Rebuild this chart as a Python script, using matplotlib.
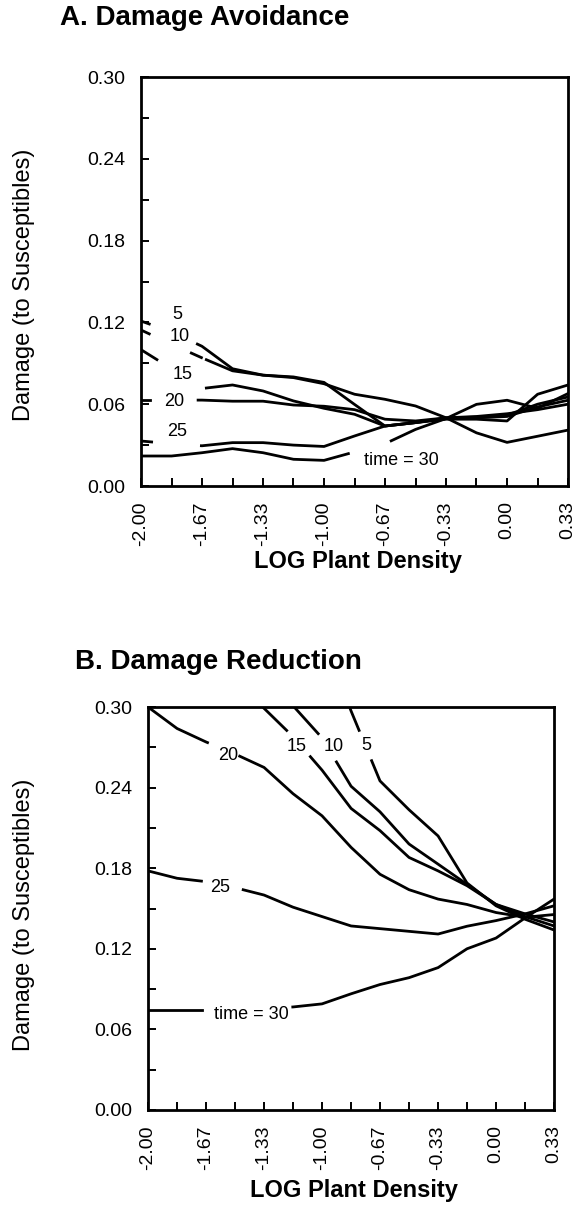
import numpy as np
import matplotlib
matplotlib.use("Agg")
import matplotlib.pyplot as plt

plt.rcParams['font.family'] = ['Liberation Sans', 'DejaVu Sans']

## Daten

log_density = [-2.000, -1.833, -1.667, -1.500, -1.333, -1.167, -1.000, -0.833,
               -0.667, -0.500, -0.333, -0.167, 0.000, 0.167, 0.333]
x_ticklabels = ['-2.00', '', '-1.67', '', '-1.33', '', '-1.00', '',
                '-0.67', '', '-0.33', '', '0.00', '', '0.33']
y_ticks = [0.00, 0.03, 0.06, 0.09, 0.12, 0.15, 0.18, 0.21, 0.24, 0.27, 0.30]
y_ticklabels = ['0.00', '', '0.06', '', '0.12', '', '0.18', '', '0.24', '', '0.30']

# A. Damage Avoidance
a_t5 = [0.121, 0.113, 0.1025, 0.086, 0.0813, 0.080, 0.076, 0.0598,
        0.044, 0.0465, 0.050, 0.039, 0.032, 0.0365, 0.041]
a_t10 = [0.1144, 0.104, 0.094, 0.0845, 0.0813, 0.0795, 0.075, 0.0673,
         0.0636, 0.0587, 0.050, 0.051, 0.053, 0.056, 0.060]
a_t15 = [0.100, 0.086, 0.0715, 0.0741, 0.0697, 0.0624, 0.057, 0.0526,
         0.044, 0.0465, 0.0495, 0.050, 0.051, 0.058, 0.0629]
a_t20 = [0.063, 0.063, 0.063, 0.0622, 0.0622, 0.0594, 0.0585, 0.056,
         0.049, 0.0477, 0.050, 0.0505, 0.052, 0.060, 0.0653]
a_t25 = [0.033, 0.031, 0.0295, 0.0318, 0.0318, 0.030, 0.029, 0.0367,
         0.044, 0.0465, 0.049, 0.049, 0.0477, 0.0673, 0.0741]
a_t30 = [0.022, 0.022, 0.0244, 0.0274, 0.0244, 0.0196, 0.0188, 0.025,
         0.031, 0.0415, 0.0495, 0.0599, 0.0629, 0.057, 0.0678]

# B. Damage Reduction (Werte ueber 0.30 liegen ausserhalb der Achse)
b_t5 = [None, None, None, None, None, None, 0.355, 0.297,
        0.245, 0.2235, 0.204, 0.169, 0.152, 0.142, 0.134]
b_t10 = [None, None, None, None, 0.325, 0.301, 0.277, 0.241,
         0.222, 0.198, 0.183, 0.168, 0.153, 0.144, 0.137]
b_t15 = [None, None, None, 0.320, 0.299, 0.278, 0.253, 0.2245,
         0.208, 0.188, 0.178, 0.167, 0.153, 0.146, 0.140]
b_t20 = [0.300, 0.284, 0.274, 0.265, 0.255, 0.2355, 0.219, 0.1955,
         0.1755, 0.164, 0.157, 0.153, 0.147, 0.1435, 0.1455]
b_t25 = [0.178, 0.1725, 0.170, 0.1655, 0.160, 0.151, 0.144, 0.137,
         0.135, 0.133, 0.131, 0.1368, 0.141, 0.146, 0.152]
b_t30 = [0.0747, 0.0747, 0.0747, 0.075, 0.0758, 0.0767, 0.079, 0.0865,
         0.0934, 0.0985, 0.106, 0.120, 0.128, 0.143, 0.157]


## Hilfsfunktion: Linie mit Luecken (fuer die Beschriftung)

def broken_line(ax, y, gaps):
    x = np.asarray(log_density, float)
    y = np.array([np.nan if v is None else v for v in y], float)
    ok = ~np.isnan(y)
    x, y = x[ok], y[ok]
    edges = [x[0]] + [g for gap in gaps for g in gap] + [x[-1]]
    for lo, hi in zip(edges[0::2], edges[1::2]):
        inside = (x > lo) & (x < hi)
        xs = np.concatenate([[lo], x[inside], [hi]])
        ys = np.interp(xs, x, y)
        ax.plot(xs, ys, color='black', lw=2.0)


def style_axes(ax):
    ax.set_xlim(-2.0, 0.333)
    ax.set_ylim(0.0, 0.30)
    ax.set_xticks(log_density)
    ax.set_xticklabels(x_ticklabels, rotation=90, fontsize=14)
    ax.set_yticks(y_ticks)
    ax.set_yticklabels(y_ticklabels, fontsize=14)
    ax.tick_params(direction='in', length=6, width=1.4, pad=11)
    for s in ax.spines.values():
        s.set_linewidth(2.0)


fig = plt.figure(figsize=(5.75, 12.07), dpi=100)

## Teil A

ax1 = fig.add_axes([141 / 575, 1 - 486 / 1207, 427 / 575, 409 / 1207])
broken_line(ax1, a_t5, [(-1.955, -1.692)])
broken_line(ax1, a_t10, [(-1.955, -1.725), (-1.670, -1.643)])
broken_line(ax1, a_t15, [(-1.913, -1.643)])
broken_line(ax1, a_t20, [(-1.950, -1.688)])
broken_line(ax1, a_t25, [(-1.942, -1.670)])
broken_line(ax1, a_t30, [(-0.867, -0.633)])
style_axes(ax1)

lab = dict(fontsize=13, ha='center', va='center')
ax1.text(-1.80, 0.1255, "5", **lab)
ax1.text(-1.79, 0.110, "10", **lab)
ax1.text(-1.77, 0.082, "15", **lab)
ax1.text(-1.82, 0.0619, "20", **lab)
ax1.text(-1.80, 0.0399, "25", **lab)
ax1.text(-0.578, 0.0184, "time = 30", **lab)

## Teil B

ax2 = fig.add_axes([148 / 575, 1 - 1110 / 1207, 406 / 575, 403 / 1207])
broken_line(ax2, b_t5, [(-0.787, -0.715)])
broken_line(ax2, b_t10, [(-1.022, -0.917)])
broken_line(ax2, b_t15, [(-1.203, -1.067)])
broken_line(ax2, b_t20, [(-1.658, -1.473)])
broken_line(ax2, b_t25, [(-1.693, -1.453)])
broken_line(ax2, b_t30, [(-1.688, -1.168)])
style_axes(ax2)

ax2.text(-0.743, 0.271, "5", **lab)
ax2.text(-0.935, 0.2705, "10", **lab)
ax2.text(-1.145, 0.2705, "15", **lab)
ax2.text(-1.538, 0.264, "20", **lab)
ax2.text(-1.583, 0.1655, "25", **lab)
ax2.text(-1.405, 0.071, "time = 30", **lab)

## Beschriftungen

fig.text(60 / 575, 1 - 18 / 1207, "A. Damage Avoidance", fontsize=20,
         fontweight='bold', ha='left', va='center')
fig.text(75 / 575, 1 - 662 / 1207, "B. Damage Reduction", fontsize=20,
         fontweight='bold', ha='left', va='center')
fig.text(24 / 575, 1 - 285 / 1207, "Damage (to Susceptibles)", fontsize=17,
         rotation=90, ha='center', va='center')
fig.text(24 / 575, 1 - 915 / 1207, "Damage (to Susceptibles)", fontsize=17,
         rotation=90, ha='center', va='center')
fig.text(358 / 575, 1 - 562 / 1207, "LOG Plant Density", fontsize=17,
         fontweight='bold', ha='center', va='center')
fig.text(354 / 575, 1 - 1190 / 1207, "LOG Plant Density", fontsize=17,
         fontweight='bold', ha='center', va='center')

fig.savefig("out.png", dpi=100)
